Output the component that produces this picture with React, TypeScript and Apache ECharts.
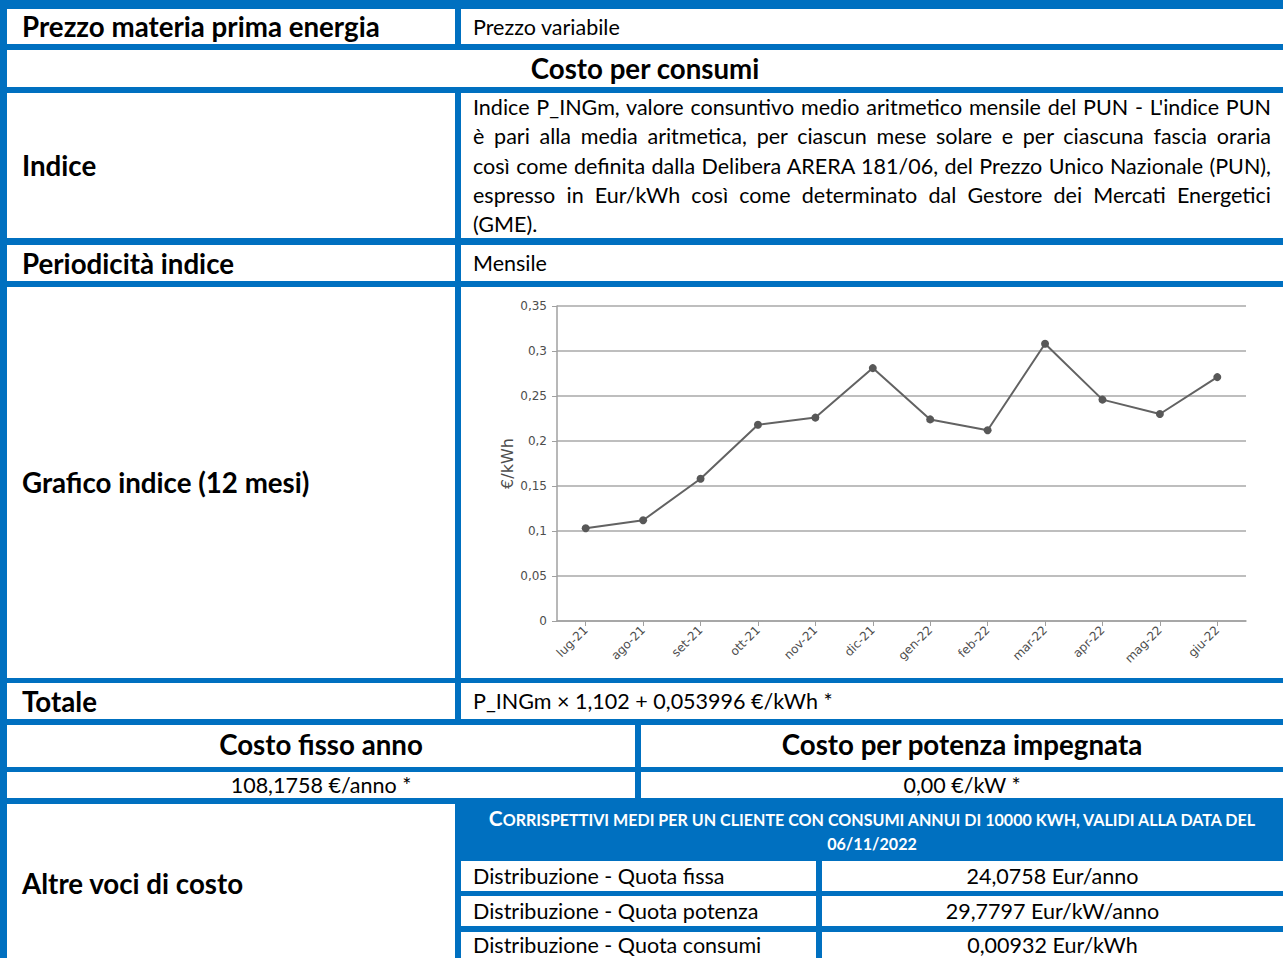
import React, { useEffect, useMemo, useRef } from "react";
import * as echarts from "echarts";

// ---------- data ----------
const CATEGORIES = ["lug-21", "ago-21", "set-21", "ott-21", "nov-21", "dic-21", "gen-22", "feb-22", "mar-22", "apr-22", "mag-22", "giu-22"];
const VALUES = [0.103, 0.112, 0.158, 0.218, 0.226, 0.281, 0.224, 0.212, 0.308, 0.246, 0.23, 0.271];
const Y_MIN = 0;
const Y_MAX = 0.35;
const Y_STEP = 0.05;
const Y_NAME = "€/kWh";

const PARAGRAPH = [
  "Indice P_INGm, valore consuntivo medio aritmetico mensile del PUN - L'indice PUN",
  "è pari alla media aritmetica, per ciascun mese solare e per ciascuna fascia oraria",
  "così come definita dalla Delibera ARERA 181/06, del Prezzo Unico Nazionale (PUN),",
  "espresso in Eur/kWh così come determinato dal Gestore dei Mercati Energetici",
  "(GME).",
];
const HEADER_LINE1 = "Corrispettivi medi per un cliente con consumi annui di 10000 kWh, validi alla data del";
const HEADER_LINE2 = "06/11/2022";
const COST_ROWS = [
  ["Distribuzione - Quota fissa", "24,0758 Eur/anno"],
  ["Distribuzione - Quota potenza", "29,7797 Eur/kW/anno"],
  ["Distribuzione - Quota consumi", "0,00932 Eur/kWh"],
];

const BLUE = "#0070C0";
const FONT = "Lato, 'Open Sans', sans-serif";
const CHART_FONT = "'DejaVu Sans', sans-serif";

function useSizes() {
  return useMemo(() => {
    const c = document.createElement("canvas");
    const ctx = c.getContext("2d")!;
    const w = (t: string, weight: string, size = 100) => {
      ctx.font = `${weight} ${size}px ${FONT}`;
      return ctx.measureText(t).width;
    };
    let reg = (100 * 150) / w("Prezzo variabile", "400");
    for (let i = 0; i < PARAGRAPH.length - 1; i++) {
      reg = Math.min(reg, (100 * 790) / w(PARAGRAPH[i], "400"));
    }
    const bold = (100 * 358) / w("Prezzo materia prima energia", "700");
    const rest = HEADER_LINE1.slice(1).toUpperCase();
    const head = (100 * 770) / (w(rest, "700") + 1.3 * w("C", "700"));
    return { reg, bold, head };
  }, []);
}

function Cell(props: { x0: number; y0: number; x1: number; y1: number; children?: any; style?: any }) {
  const { x0, y0, x1, y1, children, style } = props;
  return (
    <div
      style={{
        position: "absolute",
        left: x0,
        top: y0,
        width: x1 - x0,
        height: y1 - y0,
        background: "#fff",
        display: "flex",
        alignItems: "center",
        boxSizing: "border-box",
        overflow: "hidden",
        whiteSpace: "nowrap",
        color: "#000",
        ...style,
      }}
    >
      {children}
    </div>
  );
}

function Chart() {
  const ref = useRef<HTMLDivElement>(null);
  useEffect(() => {
    const chart = echarts.init(ref.current!, null, { renderer: "svg" });
    const fmt = (v: number) => String(Number(v.toFixed(2))).replace(".", ",");
    chart.setOption({
      animation: false,
      backgroundColor: "#ffffff",
      grid: { left: 96, right: 37, top: 19, bottom: 57, containLabel: false },
      xAxis: {
        type: "category",
        data: CATEGORIES,
        boundaryGap: true,
        axisLine: { show: true, lineStyle: { color: "#a0a0a0", width: 1.5 } },
        axisTick: { show: true, alignWithLabel: true, length: 5, lineStyle: { color: "#a0a0a0" } },
        axisLabel: { rotate: 45, margin: 7, color: "#4d4d4d", fontSize: 12, fontFamily: CHART_FONT },
      },
      yAxis: {
        type: "value",
        min: Y_MIN,
        max: Y_MAX,
        interval: Y_STEP,
        name: Y_NAME,
        nameLocation: "middle",
        nameGap: 42,
        nameMoveOverlap: false,
        nameTextStyle: { color: "#4d4d4d", fontSize: 16, fontFamily: CHART_FONT },
        axisLine: { show: true, lineStyle: { color: "#a0a0a0", width: 1.5 } },
        axisTick: { show: true, length: 5, lineStyle: { color: "#a0a0a0" } },
        axisLabel: { formatter: fmt, margin: 10, color: "#4d4d4d", fontSize: 12, fontFamily: CHART_FONT },
        splitLine: { show: true, lineStyle: { color: "#a8a8a8", width: 1.5 } },
      },
      series: [
        {
          type: "line",
          data: VALUES,
          symbol: "circle",
          symbolSize: 8,
          itemStyle: { color: "#585858" },
          lineStyle: { color: "#626262", width: 2 },
        },
      ],
    });
    return () => chart.dispose();
  }, []);
  return <div ref={ref} style={{ position: "absolute", left: 461, top: 287, width: 822, height: 391 }} />;
}

export default function App() {
  const s = useSizes();
  const reg = { fontFamily: FONT, fontSize: s.reg, fontWeight: 400 };
  const bold = { fontFamily: FONT, fontSize: s.bold, fontWeight: 700 };
  const padL = { paddingLeft: 15 };
  const padR = { paddingLeft: 12 };
  const center = { justifyContent: "center" };
  const L = 7, M = 455, N = 461, R = 1283;
  return (
    <div
      style={{
        position: "absolute",
        left: 0,
        top: 0,
        width: 1283,
        height: 958,
        overflow: "hidden",
        background: BLUE,
      }}
    >
      <Cell x0={L} y0={9} x1={M} y1={44} style={{ ...bold, ...padL }}>Prezzo materia prima energia</Cell>
      <Cell x0={N} y0={9} x1={R} y1={44} style={{ ...reg, ...padR }}>Prezzo variabile</Cell>

      <Cell x0={L} y0={50} x1={R} y1={87} style={{ ...bold, ...center }}>Costo per consumi</Cell>

      <Cell x0={L} y0={93} x1={M} y1={238} style={{ ...bold, ...padL }}>Indice</Cell>
      <Cell x0={N} y0={93} x1={R} y1={238} style={{ ...reg, paddingLeft: 12, paddingRight: 12, alignItems: "flex-start", whiteSpace: "normal" }}>
        <div style={{ width: "100%", lineHeight: "29.3px" }}>
          {PARAGRAPH.map((line, i) => (
            <div
              key={i}
              style={{
                textAlign: i < PARAGRAPH.length - 1 ? "justify" : "left",
                textAlignLast: i < PARAGRAPH.length - 1 ? "justify" : "left",
                whiteSpace: "nowrap",
              }}
            >
              {line}
            </div>
          ))}
        </div>
      </Cell>

      <Cell x0={L} y0={245} x1={M} y1={281} style={{ ...bold, ...padL }}>Periodicità indice</Cell>
      <Cell x0={N} y0={245} x1={R} y1={281} style={{ ...reg, ...padR }}>Mensile</Cell>

      <Cell x0={L} y0={287} x1={M} y1={678} style={{ ...bold, ...padL }}>Grafico indice (12 mesi)</Cell>
      <Chart />

      <Cell x0={L} y0={683} x1={M} y1={719} style={{ ...bold, ...padL }}>Totale</Cell>
      <Cell x0={N} y0={683} x1={R} y1={719} style={{ ...reg, ...padR }}>P_INGm × 1,102 + 0,053996 €/kWh *</Cell>

      <Cell x0={L} y0={725} x1={635} y1={767} style={{ ...bold, ...center, paddingBottom: 3 }}>Costo fisso anno</Cell>
      <Cell x0={641} y0={725} x1={R} y1={767} style={{ ...bold, ...center, paddingBottom: 3 }}>Costo per potenza impegnata</Cell>

      <Cell x0={L} y0={772} x1={635} y1={798} style={{ ...reg, ...center }}>108,1758 €/anno *</Cell>
      <Cell x0={641} y0={772} x1={R} y1={798} style={{ ...reg, ...center }}>0,00 €/kW *</Cell>

      <Cell x0={L} y0={804} x1={M} y1={962} style={{ ...bold, ...padL }}>Altre voci di costo</Cell>

      <div
        style={{
          position: "absolute",
          left: N,
          top: 803,
          width: R - N,
          height: 56,
          display: "flex",
          flexDirection: "column",
          alignItems: "center",
          justifyContent: "center",
          color: "#fff",
          fontFamily: FONT,
          fontWeight: 700,
          fontSize: s.head,
          lineHeight: "24px",
          whiteSpace: "nowrap",
        }}
      >
        <div>
          <span style={{ fontSize: s.head * 1.3 }}>{HEADER_LINE1.slice(0, 1).toUpperCase()}</span>
          {HEADER_LINE1.slice(1).toUpperCase()}
        </div>
        <div>{HEADER_LINE2}</div>
      </div>

      {COST_ROWS.map((row, i) => {
        const y0 = [861, 896, 932][i];
        const y1 = [891, 926, 958][i];
        return (
          <React.Fragment key={i}>
            <Cell x0={N} y0={y0} x1={816} y1={y1} style={{ ...reg, ...padR }}>{row[0]}</Cell>
            <Cell x0={822} y0={y0} x1={R} y1={y1} style={{ ...reg, ...center }}>{row[1]}</Cell>
          </React.Fragment>
        );
      })}
    </div>
  );
}
